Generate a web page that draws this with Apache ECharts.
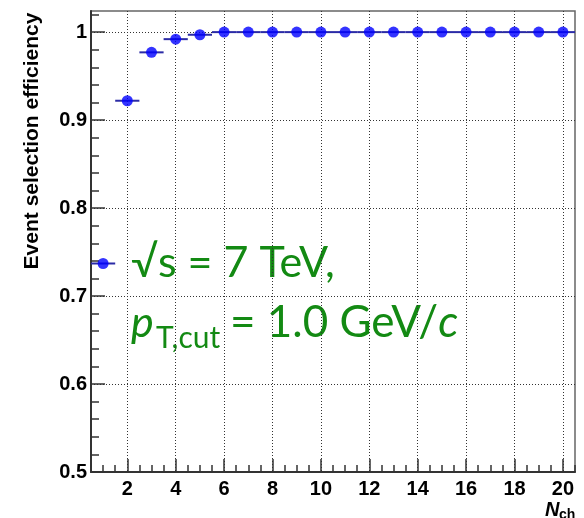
<!DOCTYPE html>
<html>
<head>
<meta charset="utf-8">
<script src="https://cdn.jsdelivr.net/npm/echarts@6.0.0/dist/echarts.min.js"></script>
<style>
  html, body { margin: 0; padding: 0; background: #fff; }
  #chart { width: 584px; height: 518px; }
</style>
</head>
<body>
<div id="chart"></div>
<script>
// data
const nch = [1, 2, 3, 4, 5, 6, 7, 8, 9, 10, 11, 12, 13, 14, 15, 16, 17, 18, 19, 20];
const efficiency = [0.737, 0.922, 0.977, 0.992, 0.997, 1, 1, 1, 1, 1, 1, 1, 1, 1, 1, 1, 1, 1, 1, 1];
const binHalfWidth = [0.5, 0.5, 0.5, 0.5, 0.5, 0.5, 0.5, 0.5, 0.5, 0.5, 0.5, 0.5, 0.5, 0.5, 0.5, 0.5, 0.5, 0.5, 0.5, 0.5];
const xMajorTicks = [2, 4, 6, 8, 10, 12, 14, 16, 18, 20];
const xMinorTicks = [1, 1.5, 2.5, 3, 3.5, 4.5, 5, 5.5, 6.5, 7, 7.5, 8.5, 9, 9.5, 10.5, 11, 11.5, 12.5, 13, 13.5, 14.5, 15, 15.5, 16.5, 17, 17.5, 18.5, 19, 19.5, 20.5];
const yMajorTicks = [0.5, 0.6, 0.7, 0.8, 0.9, 1.0];
const yMinorTicks = [0.52, 0.54, 0.56, 0.58, 0.62, 0.64, 0.66, 0.68, 0.72, 0.74, 0.76, 0.78, 0.82, 0.84, 0.86, 0.88, 0.92, 0.94, 0.96, 0.98, 1.02];

const points = nch.map((n, i) => [n, efficiency[i], binHalfWidth[i]]);

const chart = echarts.init(document.getElementById('chart'));

const labelFont = { fontFamily: 'Liberation Sans', fontWeight: 'bold', fontSize: 20, color: '#000' };
const green = '#138a13';
const xMin = 0.5, xMax = 20.5, yMin = 0.5, yMax = 1.024;

const option = {
    animation: false,
    grid: { left: 91, right: 9, top: 11, bottom: 46, show: true, borderColor: '#666', borderWidth: 1.5 },
    xAxis: [
        {
            type: 'value', min: xMin, max: xMax, position: 'bottom',
            axisLine: { onZero: false, lineStyle: { color: '#333', width: 2 } },
            axisTick: { inside: true, length: 13, customValues: xMajorTicks, lineStyle: { color: '#333', width: 1.5 } },
            axisLabel: Object.assign({ customValues: xMajorTicks, margin: 7 }, labelFont),
            splitLine: { show: true, lineStyle: { color: '#333', type: [1, 2], width: 1 } }
        },
        {
            type: 'value', min: xMin, max: xMax, position: 'bottom',
            axisLine: { show: false, onZero: false },
            axisTick: { inside: true, length: 7, customValues: xMinorTicks, lineStyle: { color: '#333', width: 1.5 } },
            axisLabel: { show: false },
            splitLine: { show: false }
        }
    ],
    yAxis: [
        {
            type: 'value', min: yMin, max: yMax, position: 'left',
            axisLine: { show: true, onZero: false, lineStyle: { color: '#333', width: 2 } },
            axisTick: { show: true, inside: true, length: 14, customValues: yMajorTicks, lineStyle: { color: '#333', width: 1.5 } },
            axisLabel: Object.assign({ customValues: yMajorTicks, margin: 4, formatter: v => (v === 1 ? '1' : v.toFixed(1)) }, labelFont),
            splitLine: { show: true, lineStyle: { color: '#333', type: [1, 2], width: 1 } }
        },
        {
            type: 'value', min: yMin, max: yMax, position: 'left',
            axisLine: { show: false, onZero: false },
            axisTick: { show: true, inside: true, length: 8, customValues: yMinorTicks, lineStyle: { color: '#333', width: 1.5 } },
            axisLabel: { show: false },
            splitLine: { show: false }
        }
    ],
    series: [
        {
            // horizontal error bars (bin width)
            type: 'custom',
            xAxisIndex: 0, yAxisIndex: 0,
            data: points,
            renderItem: function (params, api) {
                const x = api.value(0), y = api.value(1), dx = api.value(2);
                const p1 = api.coord([x - dx, y]);
                const p2 = api.coord([x + dx, y]);
                return {
                    type: 'line',
                    shape: { x1: p1[0], y1: p1[1], x2: p2[0], y2: p2[1] },
                    style: { stroke: '#2b2ba6', lineWidth: 2 }
                };
            },
            z: 3
        },
        {
            type: 'scatter',
            xAxisIndex: 0, yAxisIndex: 0,
            data: points.map(p => [p[0], p[1]]),
            symbol: 'circle',
            symbolSize: 11,
            itemStyle: { color: '#0000ff' },
            z: 4
        }
    ],
    graphic: [
        {
            type: 'text', x: 32, y: 141, rotation: Math.PI / 2,
            style: {
                text: 'Event selection efficiency',
                font: 'bold 21px "Liberation Sans"', fill: '#000',
                textAlign: 'center', textVerticalAlign: 'middle'
            }
        },
        {
            type: 'text', x: 545, y: 500,
            style: { text: 'N', font: 'italic bold 20px "Liberation Sans"', fill: '#000' }
        },
        {
            type: 'text', x: 559, y: 508,
            style: { text: 'ch', font: 'bold 14px "Liberation Sans"', fill: '#000' }
        },
        {
            type: 'text', x: 131, y: 242,
            style: { text: '√s = 7 TeV,', font: '43px Lato', fill: green }
        },
        {
            type: 'text', x: 131, y: 302,
            style: { text: 'p', font: 'italic 43px Lato', fill: green }
        },
        {
            type: 'text', x: 156, y: 323,
            style: { text: 'T,cut', font: '30px Lato', fill: green }
        },
        {
            type: 'text', x: 230, y: 301,
            style: {
                text: '{m|= 1.0 GeV/}{c|c}',
                rich: {
                    m: { fontFamily: 'Lato', fontSize: 44, fill: green },
                    c: { fontFamily: 'Lato', fontStyle: 'italic', fontSize: 44, fill: green }
                }
            }
        }
    ]
};

chart.setOption(option);
</script>
</body>
</html>
